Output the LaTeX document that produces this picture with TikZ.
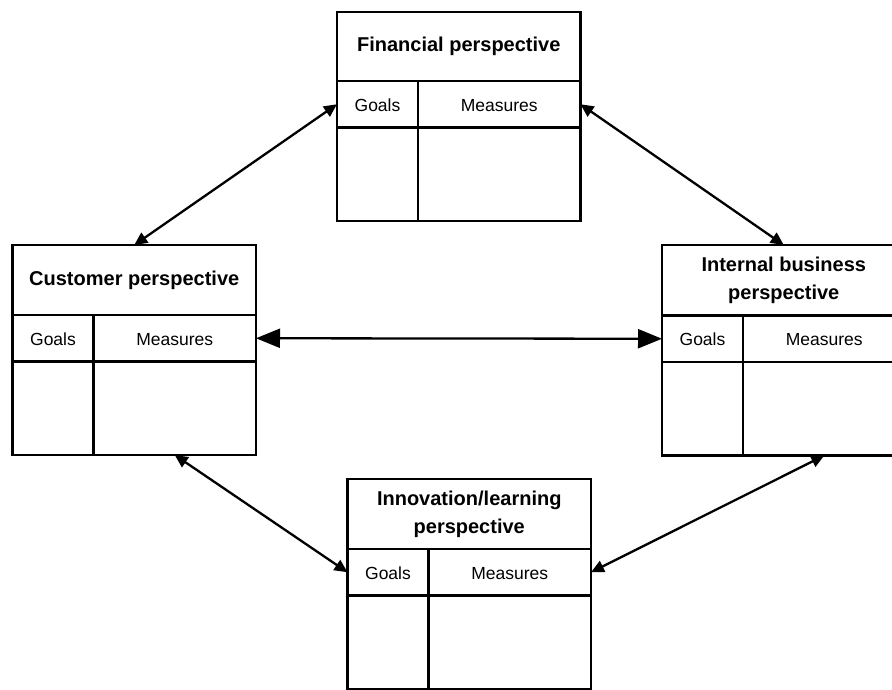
\documentclass[tikz,border=0pt]{standalone}
\usepackage{fontspec}
\setmainfont{Liberation Sans}
\usetikzlibrary{arrows.meta}
\tikzset{
  cell/.style={draw, line width=2.5pt, inner sep=0pt, outer sep=0pt, anchor=north west,
    align=center, text height=14.5pt, text depth=1pt,
    font=\fontsize{17.5}{21}\selectfont},
  titlecell/.style={cell, text height=, text depth=, font=\fontsize{20}{28}\selectfont\bfseries},
  link/.style={line width=2.3pt, {Triangle[length=13pt,width=12pt]}-{Triangle[length=13pt,width=12pt]}},
  biglink/.style={line width=2.3pt, {Triangle[length=24pt,width=19pt]}-{Triangle[length=24pt,width=19pt]}}
}
% #1 name, #2 x, #3 y (top left), #4 title, #5 title row height
\newcommand\perspbox[5]{%
  \node[titlecell, minimum width=243.5pt, minimum height=#5pt] (#1-t) at (#2,#3) {#4};
  \node[cell, minimum width=81pt, minimum height=46.5pt] (#1-g) at (#1-t.south west) {Goals};
  \node[cell, minimum width=162.5pt, minimum height=46.5pt] (#1-m) at (#1-g.north east) {Measures};
  \node[cell, minimum width=81pt, minimum height=93.5pt] (#1-bg) at (#1-g.south west) {};
  \node[cell, minimum width=162.5pt, minimum height=93.5pt] (#1-bm) at (#1-m.south west) {};
}
\begin{document}
\begin{tikzpicture}[x=1pt, y=-1pt]
  \clip (0,0) rectangle (892,689);
  \fill[white] (0,0) rectangle (892,689);

  \perspbox{fin}{337}{12}{Financial perspective}{69}
  \perspbox{cus}{12.5}{245}{Customer perspective}{70}
  \perspbox{int}{662}{245}{Internal business\\perspective}{70.5}
  \perspbox{inn}{347.5}{479}{Innovation/learning\\perspective}{70}

  \draw[link] (fin-g.west) -- (cus-t.north);
  \draw[link] (fin-m.east) -- (int-t.north);
  \draw[link] (cus-bm.south) -- (inn-g.west);
  \draw[link] (int-bm.south) -- (inn-m.east);
  \draw[biglink] (cus-m.east) -- (int-g.west);
\end{tikzpicture}
\end{document}
